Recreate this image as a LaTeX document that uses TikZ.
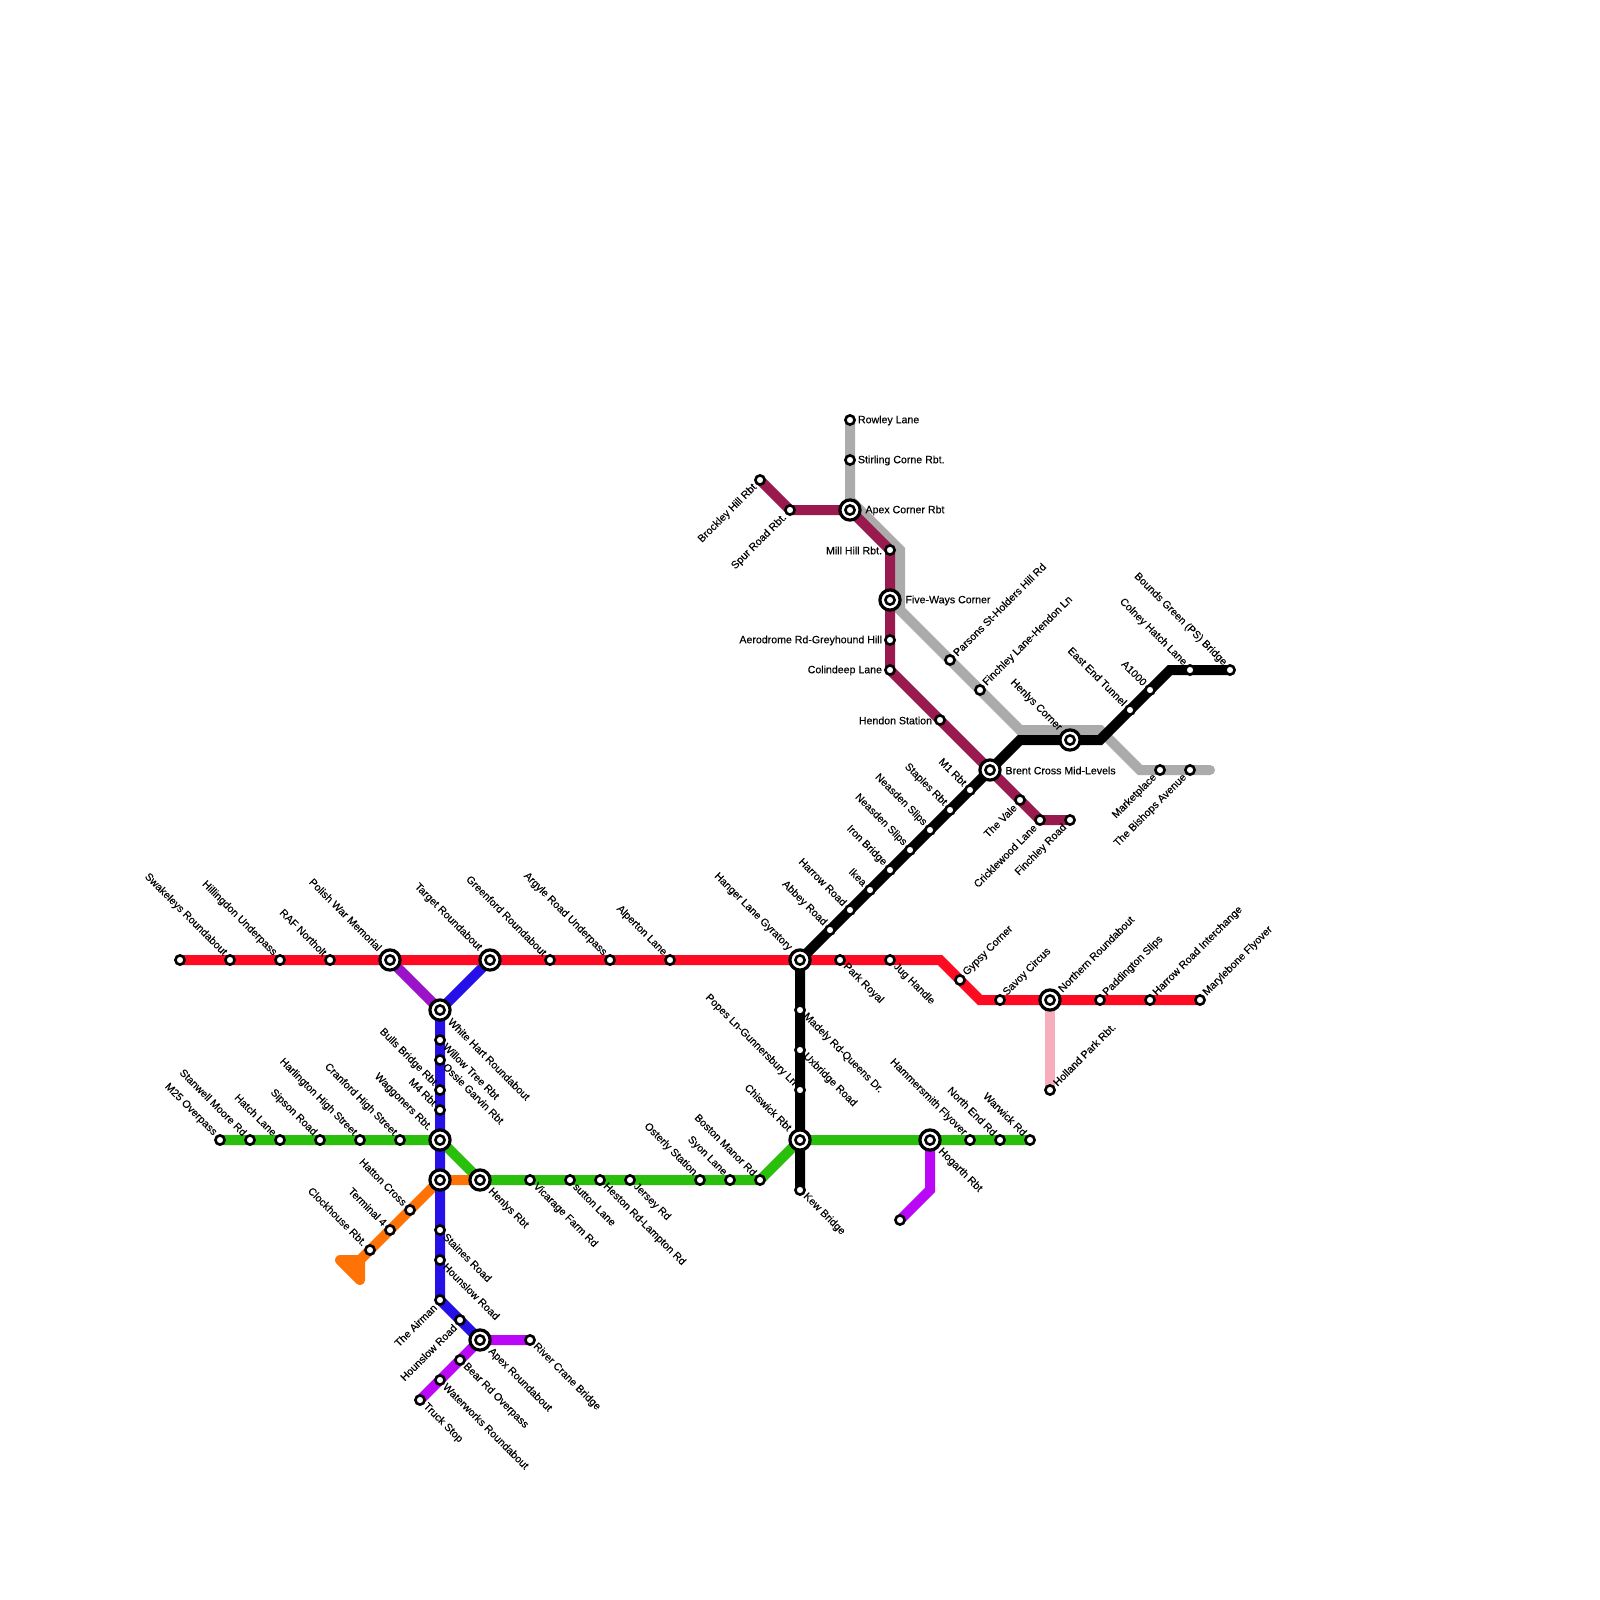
\documentclass[tikz,border=0pt]{standalone}
\usepackage{fontspec}
\setmainfont{Liberation Sans}[FakeBold=0.18]
\pgfdeclarelayer{lines}
\pgfsetlayers{lines,main}
\definecolor{cred}{HTML}{FF0A23}
\definecolor{cblue}{HTML}{2610E8}
\definecolor{cgreen}{HTML}{2ABF0C}
\definecolor{corange}{HTML}{FF7306}
\definecolor{cviolet}{HTML}{9B12C9}
\definecolor{cmagenta}{HTML}{BB07F7}
\definecolor{cwine}{HTML}{981A4E}
\definecolor{cgrey}{HTML}{ABABAB}
\definecolor{cpink}{HTML}{F7ADBB}
\tikzset{
  x=1pt,y=-1pt,
  stop/.style={circle,draw=black,fill=white,line width=2.6pt,minimum size=9.2pt,inner sep=0pt,outer sep=0pt},
  hub/.style={circle,draw=black,fill=white,line width=3.2pt,minimum size=20.2pt,inner sep=0pt,outer sep=0pt},
  metro/.style={line width=10pt,line cap=round,line join=miter},
  lab/.style={inner sep=0pt,outer sep=0pt,font=\fontsize{10.6}{12}\selectfont,text=black},
  ul/.style={lab,xshift=-5pt,yshift=6pt,rotate=-45,anchor=east},
  dr/.style={lab,xshift=5pt,yshift=-5pt,rotate=-45,anchor=west},
  ur/.style={lab,xshift=5pt,yshift=6pt,rotate=45,anchor=west},
  dl/.style={lab,xshift=-5pt,yshift=-6pt,rotate=45,anchor=east},
  rt/.style={lab,xshift=8pt,yshift=-0.5pt,anchor=west},
  lt/.style={lab,xshift=-8pt,yshift=-0.5pt,anchor=east},
  hul/.style={lab,xshift=-10pt,yshift=11pt,rotate=-45,anchor=east},
  hdr/.style={lab,xshift=10pt,yshift=-10pt,rotate=-45,anchor=west},
  hur/.style={lab,xshift=10pt,yshift=10pt,rotate=45,anchor=west},
  hrt/.style={lab,xshift=15.5pt,yshift=-0.5pt,anchor=west},
}
\newcommand\st[5]{\node[stop] (#1) at (#2,#3) {}; \node[#4] (#1-l) at (#1.center) {#5};}
\newcommand\hb[5]{\node[hub] (#1) at (#2,#3) {}; \node[stop] (#1-i) at (#1.center) {}; \node[#4] (#1-l) at (#1.center) {#5};}
\begin{document}
\begin{tikzpicture}
\useasboundingbox (0,0) rectangle (1600,1600);
% red line
\node[stop] (r0) at (180,960) {};
\st{r1}{230}{960}{ul}{Swakeleys Roundabout}
\st{r2}{280}{960}{ul}{Hillingdon Underpass}
\st{r3}{330}{960}{ul}{RAF Northolt}
\hb{polish}{390}{960}{hul}{Polish War Memorial}
\hb{target}{490}{960}{hul}{Target Roundabout}
\st{r4}{550}{960}{ul}{Greenford Roundabout}
\st{r5}{610}{960}{ul}{Argyle Road Underpass}
\st{r6}{670}{960}{ul}{Alperton Lane}
\hb{hanger}{800}{960}{hul}{Hanger Lane Gyratory}
\st{r7}{840}{960}{dr}{Park Royal}
\st{r8}{890}{960}{dr}{Jug Handle}
\st{r9}{960}{980}{ur}{Gypsy Corner}
\st{r10}{1000}{1000}{ur}{Savoy Circus}
\hb{northern}{1050}{1000}{hur}{Northern Roundabout}
\st{r11}{1100}{1000}{ur}{Paddington Slips}
\st{r12}{1150}{1000}{ur}{Harrow Road Interchange}
\st{r13}{1200}{1000}{ur}{Marylebone Flyover}
\st{holland}{1050}{1090}{ur}{Holland Park Rbt.}
\coordinate (rc1) at (940,960);
\coordinate (rc2) at (980,1000);
% blue line
\hb{white}{440}{1010}{hdr}{White Hart Roundabout}
\st{b1}{440}{1040}{dr}{Willow Tree Rbt}
\st{b2}{440}{1060}{dr}{Ossie Garvin Rbt}
\st{b3}{440}{1090}{ul}{Bulls Bridge Rbt}
\st{b4}{440}{1110}{ul}{M4 Rbt}
\hb{wagg}{440}{1140}{hul}{Waggoners Rbt.}
\node[hub] (hat) at (440,1180) {}; \node[stop] (hat-i) at (hat.center) {};
\st{b5}{440}{1230}{dr}{Staines Road}
\st{b6}{440}{1260}{dr}{Hounslow Road}
\st{b7}{440}{1300}{dl}{The Airman}
\st{b8}{460}{1320}{dl}{Hounslow Road}
\hb{apexr}{480}{1340}{hdr}{Apex Roundabout}
% magenta
\st{m1}{530}{1340}{dr}{River Crane Bridge}
\st{m2}{460}{1360}{dr}{Bear Rd Overpass}
\st{m3}{440}{1380}{dr}{Waterworks Roundabout}
\st{m4}{420}{1400}{dr}{Truck Stop}
\node[stop] (m5) at (900,1220) {};
\coordinate (mc) at (930,1190);
% orange
\st{o1}{410}{1210}{ul}{Hatton Cross}
\st{o2}{390}{1230}{ul}{Terminal 4}
\st{o3}{370}{1250}{ul}{Clockhouse Rbt.}
\coordinate (oc1) at (360,1260);
\coordinate (oc2) at (340,1260);
\coordinate (oc3) at (360,1280);
% green
\st{g1}{220}{1140}{ul}{M25 Overpass}
\st{g2}{250}{1140}{ul}{Stanwell Moore Rd}
\st{g3}{280}{1140}{ul}{Hatch Lane}
\st{g4}{320}{1140}{ul}{Sipson Road}
\st{g5}{360}{1140}{ul}{Harlington High Street}
\st{g6}{400}{1140}{ul}{Cranford High Street}
\hb{henlys}{480}{1180}{hdr}{Henlys Rbt}
\st{g7}{530}{1180}{dr}{Vicarage Farm Rd}
\st{g8}{570}{1180}{dr}{sutton Lane}
\st{g9}{600}{1180}{dr}{Heston Rd-Lampton Rd}
\st{g10}{630}{1180}{dr}{Jersey Rd}
\st{g11}{700}{1180}{ul}{Osterly Station}
\st{g12}{730}{1180}{ul}{Syon Lane}
\st{g13}{760}{1180}{ul}{Boston Manor Rd}
\hb{chis}{800}{1140}{hul}{Chiswick Rbt}
\hb{hogarth}{930}{1140}{hdr}{Hogarth Rbt}
\st{g14}{970}{1140}{ul}{Hammersmith Flyover}
\st{g15}{1000}{1140}{ul}{North End Rd}
\st{g16}{1030}{1140}{ul}{Warwick Rd}
% black
\st{k1}{800}{1010}{dr}{Madely Rd-Queens Dr.}
\st{k2}{800}{1050}{dr}{Uxbridge Road}
\st{k3}{800}{1090}{ul}{Popes Ln-Gunnersbury Ln}
\st{k4}{800}{1190}{dr}{Kew Bridge}
\st{k5}{830}{930}{ul}{Abbey Road}
\st{k6}{850}{910}{ul}{Harrow Road}
\st{k7}{870}{890}{ul}{Ikea}
\st{k8}{890}{870}{ul}{Iron Bridge}
\st{k9}{910}{850}{ul}{Neasden Slips}
\st{k10}{930}{830}{ul}{Neasden Slips}
\st{k11}{950}{810}{ul}{Staples Rbt}
\st{k12}{970}{790}{ul}{M1 Rbt}
\hb{brent}{990}{770}{hrt}{Brent Cross Mid-Levels}
\coordinate (kc1) at (1020,740);
\hb{henc}{1070}{740}{hul}{Henlys Corner}
\coordinate (kc2) at (1100,740);
\st{k13}{1130}{710}{ul}{East End Tunnel}
\st{k14}{1150}{690}{ul}{A1000}
\coordinate (kc3) at (1170,670);
\st{k15}{1190}{670}{ul}{Colney Hatch Lane}
\st{k16}{1230}{670}{ul}{Bounds Green (PS) Bridge}
% wine
\st{w1}{760}{480}{dl}{Brockley Hill Rbt}
\st{w2}{790}{510}{dl}{Spur Road Rbt.}
\hb{apexc}{850}{510}{hrt}{Apex Corner Rbt}
\st{w3}{890}{550}{lt}{Mill Hill Rbt.}
\hb{five}{890}{600}{hrt}{Five-Ways Corner}
\st{w4}{890}{640}{lt}{Aerodrome Rd-Greyhound Hill}
\st{w5}{890}{670}{lt}{Colindeep Lane}
\st{w6}{940}{720}{lt}{Hendon Station}
\st{w7}{1020}{800}{dl}{The Vale}
\st{w8}{1040}{820}{dl}{Cricklewood Lane}
\st{w9}{1070}{820}{dl}{Finchley Road}
% grey
\st{y1}{850}{420}{rt}{Rowley Lane}
\st{y2}{850}{460}{rt}{Stirling Corne Rbt.}
\coordinate (yc1) at (850,500);
\coordinate (yc2) at (900,550);
\coordinate (yc3) at (900,610);
\st{y3}{950}{660}{ur}{Parsons St-Holders Hill Rd}
\st{y4}{980}{690}{ur}{Finchley Lane-Hendon Ln}
\coordinate (yc4) at (1020,730);
\coordinate (yc5) at (1100,730);
\coordinate (yc6) at (1140,770);
\st{y5}{1160}{770}{dl}{Marketplace}
\st{y6}{1190}{770}{dl}{The Bishops Avenue}
\coordinate (yc7) at (1210,770);
\begin{pgfonlayer}{lines}
\fill[white] (0,0) rectangle (1600,1600);
\draw[metro,cgrey] (y1.center) -- (y2.center) -- (yc1) -- (yc2) -- (yc3) -- (y3.center) -- (y4.center) -- (yc4) -- (yc5) -- (yc6) -- (y5.center) -- (y6.center) -- (yc7);
\draw[metro,cpink] (northern.center) -- (holland.center);
\draw[metro,cwine] (w1.center) -- (w2.center) -- (apexc.center) -- (w3.center) -- (five.center) -- (w4.center) -- (w5.center) -- (w6.center) -- (brent.center) -- (w7.center) -- (w8.center) -- (w9.center);
\draw[metro,cgreen] (g1.center) -- (g2.center) -- (g3.center) -- (g4.center) -- (g5.center) -- (g6.center) -- (wagg.center) -- (henlys.center) -- (g7.center) -- (g8.center) -- (g9.center) -- (g10.center) -- (g11.center) -- (g12.center) -- (g13.center) -- (chis.center) -- (hogarth.center) -- (g14.center) -- (g15.center) -- (g16.center);
\draw[metro,cviolet] (polish.center) -- (white.center);
\draw[metro,corange,line join=round] (henlys.center) -- (hat.center) -- (o1.center) -- (o2.center) -- (o3.center) -- (oc1) -- (oc2) -- (oc3) -- (oc1);
\fill[corange] (oc1) -- (oc2) -- (oc3) -- cycle;
\draw[metro,cmagenta] (m1.center) -- (apexr.center) -- (m2.center) -- (m3.center) -- (m4.center);
\draw[metro,cmagenta] (hogarth.center) -- (mc) -- (m5.center);
\draw[metro,cblue] (target.center) -- (white.center) -- (b1.center) -- (b2.center) -- (b3.center) -- (b4.center) -- (wagg.center) -- (hat.center) -- (b5.center) -- (b6.center) -- (b7.center) -- (b8.center) -- (apexr.center);
\draw[metro,cred] (r0.center) -- (r1.center) -- (r2.center) -- (r3.center) -- (polish.center) -- (target.center) -- (r4.center) -- (r5.center) -- (r6.center) -- (hanger.center) -- (r7.center) -- (r8.center) -- (rc1) -- (r9.center) -- (rc2) -- (r10.center) -- (northern.center) -- (r11.center) -- (r12.center) -- (r13.center);
\draw[metro,black] (k4.center) -- (chis.center) -- (k3.center) -- (k2.center) -- (k1.center) -- (hanger.center) -- (k5.center) -- (k6.center) -- (k7.center) -- (k8.center) -- (k9.center) -- (k10.center) -- (k11.center) -- (k12.center) -- (brent.center) -- (kc1) -- (henc.center) -- (kc2) -- (k13.center) -- (k14.center) -- (kc3) -- (k15.center) -- (k16.center);
\end{pgfonlayer}
\end{tikzpicture}
\end{document}
